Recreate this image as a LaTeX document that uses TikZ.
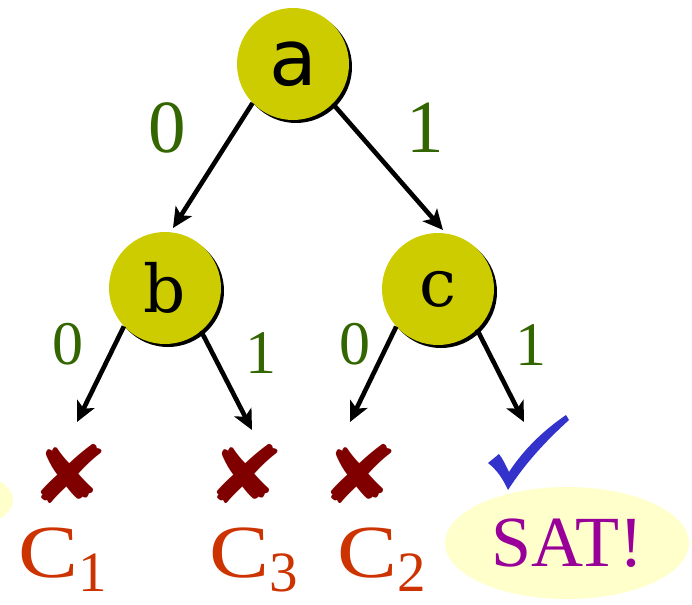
\documentclass[tikz,border=0pt]{standalone}
\usepackage{fontspec}
\setmainfont{Liberation Serif}
\newfontfamily\sansletter{DejaVu Sans}
\newfontfamily\serifletter{DejaVu Serif}
\newfontfamily\symbolfont{DejaVu Sans}
\usetikzlibrary{shadows,arrows.meta,shapes.geometric}

\definecolor{nodefill}{HTML}{CCCC00}
\definecolor{bitgreen}{HTML}{336600}
\definecolor{crossred}{HTML}{800000}
\definecolor{clausered}{HTML}{CC3300}
\definecolor{checkblue}{HTML}{3333CC}
\definecolor{satpurple}{HTML}{990099}
\definecolor{paleyellow}{HTML}{FFFFCC}

\tikzset{
  vnode/.style={circle, fill=nodefill, minimum size=112pt, inner sep=0pt,
    drop shadow={shadow xshift=3pt, shadow yshift=-3pt, fill=black, opacity=1}},
  arr/.style={line width=4.6pt, -{Stealth[length=20pt,width=19pt,inset=5pt]}},
  bigbit/.style={text=bitgreen, inner sep=0pt, font=\fontsize{75}{75}\selectfont},
  smallbit/.style={text=bitgreen, inner sep=0pt, font=\fontsize{62}{62}\selectfont},
  crossmark/.style={text=crossred, inner sep=0pt, font=\symbolfont\fontsize{80}{80}\selectfont},
  clause/.style={text=clausered, inner sep=0pt, anchor=base west, font=\fontsize{75}{75}\selectfont},
  satbubble/.style={ellipse, fill=paleyellow, inner sep=0pt},
}
\newcommand{\clausename}[1]{\scalebox{1.2}[1]{C}\raisebox{-14pt}{\fontsize{57}{57}\selectfont #1}}
\newcommand{\cross}{\scalebox{1.2}[1]{✘}}

\begin{document}
\begin{tikzpicture}[x=1pt,y=-1pt]
\useasboundingbox (0,0) rectangle (692,604);
\clip (0,0) rectangle (692,604);

% variable nodes
\node[vnode, font=\sansletter\fontsize{78}{78}\selectfont] (a) at (293,64) {a};
\node[vnode, font=\serifletter\fontsize{66}{66}\selectfont] (b) at (165,288) {b};
\node[vnode, font=\serifletter\fontsize{66}{66}\selectfont] (c) at (438,289) {c};

% arrow tips
\coordinate (tb) at (173,228);
\coordinate (tc) at (443,230);
\coordinate (tbl) at (77,422);
\coordinate (tbr) at (252,430);
\coordinate (tcl) at (350,422);
\coordinate (tcr) at (524,422);

% branches
\draw[arr] (a.224) -- (tb);
\draw[arr] (a.315) -- (tc);
\draw[arr] (b.223) -- (tbl);
\draw[arr] (b.310) -- (tbr);
\draw[arr] (c.222) -- (tcl);
\draw[arr] (c.314) -- (tcr);

% branch values
\node[bigbit] (a0) at (167,128) {0};
\node[bigbit] (a1) at (425,128) {1};
\node[smallbit] (b0) at (68,344) {0};
\node[smallbit] (b1) at (261,353) {1};
\node[smallbit] (c0) at (355,344) {0};
\node[smallbit] (c1) at (531,345) {1};

% leaves
\node[satbubble, minimum width=130pt, minimum height=62pt] (prev) at (-52,500) {};
\node[crossmark] (x1) at (70,474) {\cross};
\node[crossmark] (x3) at (246,474) {\cross};
\node[crossmark] (x2) at (360,474) {\cross};

% check mark
\fill[checkblue] (488,463) -- (499,454)
  .. controls (503,459) and (506,466) .. (509,472)
  .. controls (524,449) and (544,430) .. (566,415)
  -- (569,420)
  .. controls (547,440) and (526,462) .. (508,490)
  .. controls (503,479) and (497,470) .. cycle;

\node[clause] (k1) at (18,577) {\clausename{1}};
\node[clause] (k3) at (209,577) {\clausename{3}};
\node[clause] (k2) at (337,577) {\clausename{2}};

\node[satbubble, minimum width=244pt, minimum height=112pt, text=satpurple,
  font=\fontsize{72}{72}\selectfont] (sat) at (567,543) {SAT!};
\end{tikzpicture}
\end{document}
